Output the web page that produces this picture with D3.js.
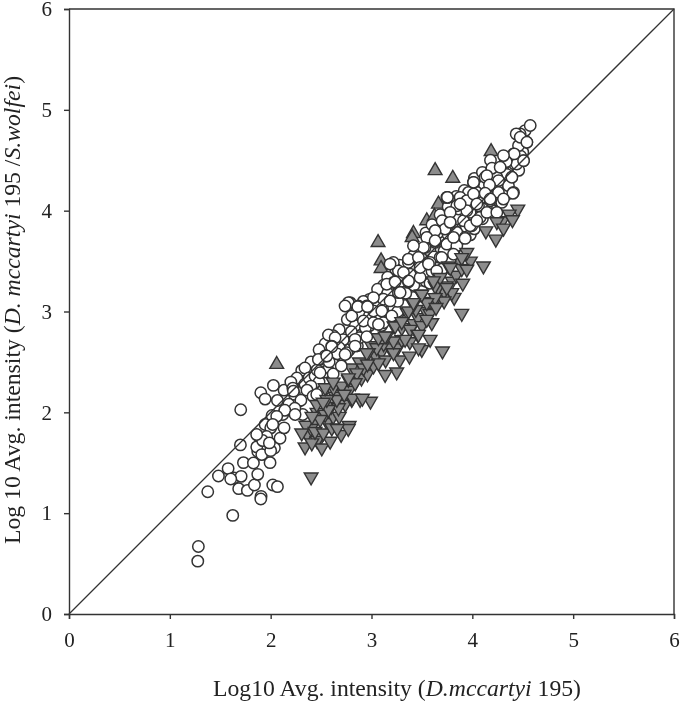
<!DOCTYPE html>
<html>
 <head>
   <meta charset="utf-8">
   <title>Log10 intensity scatter</title>
   <script src="https://cdn.jsdelivr.net/npm/d3@7/dist/d3.min.js"></script>
   <style>
     body { margin: 0; background: #fff; }
     text { font-family: "Liberation Serif", serif; fill: #222; }
   </style>
 </head>
 <body>
  <script>
    var ticks = [0, 1, 2, 3, 4, 5, 6];

    // [x, y]
    var circles = [[1.277,0.524],[1.283,0.670],[1.624,0.978],[1.376,1.213],[1.482,1.369],[1.578,1.442],[1.637,1.349],[1.707,1.365],[1.604,1.339],[1.683,1.243],[1.769,1.226],[1.839,1.279],[1.905,1.167],[1.902,1.140],[2.021,1.279],[2.067,1.263],[1.872,1.385],[1.730,1.501],[1.829,1.498],[1.994,1.501],[1.700,1.677],[1.872,1.611],[1.862,1.657],[1.912,1.581],[1.703,2.025],[1.869,1.773],[1.984,1.697],[2.037,1.647],[2.093,1.743],[1.945,1.879],[2.001,1.846],[2.133,1.846],[2.014,1.969],[2.120,1.979],[1.902,2.194],[1.945,2.131],[2.027,2.267],[2.133,2.220],[2.067,2.118],[2.279,2.111],[2.308,2.416],[2.302,2.306],[2.236,2.178],[2.408,2.383],[2.441,2.283],[2.523,2.310],[2.506,2.393],[2.490,2.525],[2.590,2.492],[2.606,2.651],[2.689,2.492],[2.748,2.581],[2.318,1.979],
      [3.40,3.44],[3.46,3.40],[3.28,3.46],[3.24,3.42],[3.16,3.34],[3.12,3.26],[3.06,3.22],[2.98,3.12],[2.92,3.10],[2.82,3.02],[2.76,2.92],[2.68,2.82],[2.62,2.76],[2.54,2.68],[2.48,2.62],[2.40,2.50],[2.34,2.44],[2.26,2.34],[2.20,2.30],[3.54,3.78],[3.60,3.86],[3.68,3.96],[3.76,4.04],[3.84,4.14],[3.92,4.20],[4.02,4.32],[4.10,4.38],[4.18,4.50],
      [2.30,2.12],[2.34,2.28],[2.38,2.34],[2.44,2.36],[2.48,2.30],[2.54,2.40],[2.58,2.44],[2.62,2.52],[2.66,2.48],[2.70,2.56],[2.74,2.66],[2.78,2.62],[2.82,2.70],[2.86,2.66],[2.90,2.82],[2.94,2.78],[2.98,2.86],[3.02,2.98],[3.06,2.92],[3.10,2.86],[3.14,3.02],[3.18,2.94],[3.22,3.04],[3.26,3.00],[3.30,3.12],[3.34,3.06],[3.38,3.20],[3.42,3.14],[3.46,3.24],[3.50,3.20],[3.54,3.30],[3.58,3.28],[3.62,3.36],[3.66,3.46],[3.70,3.42],[3.74,3.58],[3.78,3.64],[3.82,3.60],[3.86,3.78],[3.90,3.80],[3.94,3.84],[3.98,3.76],[4.02,3.82],[4.06,3.98],[4.10,3.92],[4.14,4.08],[4.18,4.02],[4.22,4.22],[4.26,4.10],[4.30,4.20],[4.34,4.16],[4.38,4.42],[4.42,4.46],[4.46,4.40],[4.50,4.58],
      [4.30,4.42],[4.36,4.50],[4.25,4.25],[4.12,4.25],[4.08,4.12],[3.98,4.07],[3.90,4.00],[3.84,3.92],[3.70,3.90],[3.66,3.78],[3.76,3.76],[3.58,3.60],[3.62,3.54],[3.72,3.60],[3.44,3.42],[3.50,3.52],[3.30,3.30],[3.28,3.36],[3.42,3.26],[3.10,3.08],[3.16,3.18],[3.06,3.10],[2.90,2.96],[2.98,2.96],[2.84,2.86],[2.72,2.72],[2.68,2.64],[2.80,2.80],[2.66,2.58],[2.58,2.50],[2.46,2.42],[2.40,2.26],[2.36,2.22],[2.22,2.24],[2.18,2.08],[2.24,2.04],[2.14,2.02],[2.06,1.96],[2.02,1.88],[1.96,1.76],[1.92,1.72],[2.00,1.62],[2.42,2.16],[2.52,2.22],[2.62,2.38],[2.70,2.46],[2.88,2.74],[2.94,2.84],[3.08,2.96],[3.26,3.10],[3.34,3.18],[3.52,3.38],[3.60,3.40],[3.78,3.50],[3.88,3.72],[4.00,3.96],[4.14,4.02],[4.22,4.14],[4.34,4.36],[4.48,4.54],
      [4.524,4.794],[4.474,4.761],[4.540,4.678],[4.458,4.645],[4.408,4.562],[4.325,4.480],[4.507,4.496],[4.441,4.463],[4.193,4.413],[4.127,4.331],[4.011,4.281],[4.243,4.331],[4.391,4.331],[4.210,4.248],[4.358,4.248],[4.408,4.181],[4.259,4.181],[4.143,4.181],[4.044,4.181],[3.962,4.181],[3.747,4.132],[3.879,4.132],[3.945,4.099],[4.061,4.049],[4.177,4.099],[4.292,4.082],[3.862,4.016],[3.780,3.883],[3.978,3.983],[4.077,3.933],[3.912,3.900],[3.995,3.850],[3.631,3.800],[3.730,3.817],[3.846,3.784],[3.928,3.734],[3.565,3.734],[3.631,3.684],[3.747,3.668],[3.846,3.651],[3.532,3.635],[3.680,3.535],[3.813,3.568],[3.416,3.552],[3.366,3.486],[3.482,3.469],[3.217,3.486],[3.267,3.403],[3.581,3.486],[3.383,3.370],[3.482,3.337],[3.217,3.287],[3.366,3.293],[3.151,3.270],[3.267,3.187],[3.118,3.121],[3.184,3.105],[3.019,3.138],[2.953,3.055],[2.788,3.088],[2.755,3.055],[2.870,3.055],[3.019,3.005],[3.102,3.005],[2.804,2.955],[2.920,2.906],[3.019,2.889],[3.118,2.889],[3.201,2.955],[2.573,2.767],[2.639,2.740],[2.837,2.724],[2.953,2.750],[2.606,2.657],[2.755,2.591],[2.837,2.657],[2.540,2.558],
      [4.574,4.844],[4.435,4.761],[4.475,4.728],[4.541,4.679],[4.415,4.563],[4.336,4.486],[4.508,4.496],[4.309,4.546],[4.194,4.420],[4.276,4.430],[4.392,4.331],[4.144,4.347],[4.012,4.281],[4.260,4.298],[4.170,4.254],[4.402,4.172],[4.309,4.115],[4.127,4.172],[4.012,4.165],[3.754,4.132],[3.846,4.049],[4.045,4.066],[4.177,4.115],[3.945,4.000],[4.144,3.983],[3.780,3.983],[4.243,3.983],
      [3.753,4.132],[3.879,4.066],[3.780,3.884],[3.978,3.850],[4.044,3.900],[3.631,3.801],[3.928,3.725],[3.548,3.735],[3.813,3.735],[3.631,3.701],[3.697,3.536],[3.515,3.635],[3.416,3.652],[3.184,3.470],[3.366,3.519],[3.465,3.536],[3.317,3.387],[3.482,3.436],[3.284,3.188],[3.565,3.470],[3.647,3.403],
      [3.234,3.293],[3.367,3.303],[2.771,3.088],[2.738,3.055],[2.864,3.048],[2.960,3.048],[3.069,2.872],[2.606,2.650],[2.738,2.574],[2.490,2.392],[2.473,2.525],[2.556,2.558],[2.457,2.177],[2.225,2.210],[2.242,1.978],[1.861,1.780],[1.987,1.697]];

    var upTriangles = [[2.060,2.475],[3.631,4.397],[3.806,4.321],[4.186,4.586],[3.065,3.684],[3.095,3.502],[3.095,3.426],[3.664,4.065],[3.548,3.900],[3.624,3.943],[3.416,3.774],[3.403,3.734]];

    // down triangles half hidden behind the circles
    var downBehind = [[2.36,1.78],[2.44,1.92],[2.50,1.76],[2.56,1.90],[2.62,1.96],[2.46,2.00],[2.54,1.98],[2.60,2.06],[2.68,1.96],[2.74,2.08],[2.70,2.24],[2.78,2.22],[2.84,2.30],[2.90,2.34],[2.80,2.44],[2.88,2.50],[2.96,2.38],[3.02,2.46],[3.04,2.56],[3.10,2.60],[3.14,2.52],[3.18,2.64],[3.26,2.64],[3.30,2.72],[3.28,2.52],[3.38,2.70],[3.42,2.88],[3.46,2.94],[3.50,2.86],[3.54,3.00],[3.58,3.10],[3.44,3.02],[3.30,2.84],[3.26,2.94],[3.68,3.14],[3.72,3.20],[3.66,3.24],[3.80,3.30],[3.84,3.36],[3.82,3.14],[3.58,2.98],[3.12,2.68],[3.00,2.66],[2.92,2.44],[2.64,2.16],[2.46,1.72],[2.40,1.84],[3.86,3.50],[3.98,3.50],[4.30,3.90]];

    var downTriangles = [[2.401,1.359],[2.341,1.657],[2.507,1.647],[2.348,1.872],[2.490,1.929],[2.778,1.869],[2.699,1.780],[2.590,1.713],[2.408,1.697],[2.308,1.796],[2.440,1.810],[2.523,1.796],[2.606,1.846],[2.672,2.045],[2.573,2.028],[2.457,2.078],[2.656,2.128],[2.557,2.128],[2.623,2.244],[2.705,2.260],[2.540,2.244],[2.771,2.326],[2.854,2.392],[2.804,2.128],[2.887,2.128],[2.838,2.293],
      [4.451,4.016],[4.365,3.966],[4.398,3.910],[4.243,3.890],[4.309,3.827],[4.134,3.800],[4.233,3.718],[4.110,3.452],[3.895,2.982],[3.905,3.280],[3.945,3.585],[3.895,3.535],[3.895,3.426],[3.763,3.452],[3.740,3.254],[3.631,3.254],[3.796,3.187],[3.720,3.105],[3.631,3.138],[3.492,3.171],[3.548,3.088],[3.416,3.071],[3.356,2.989],[3.598,2.889],[3.548,2.922],[3.224,2.856],[3.383,2.823],[3.459,2.773],[3.581,2.724],[3.499,2.624],[3.704,2.608],[3.376,2.558],[3.218,2.591],[3.333,2.724],[3.218,2.707],[3.052,2.641],[2.969,2.591],[3.069,2.740],[3.151,2.757],
      [3.25,2.40],[2.99,2.11],[2.81,2.14],[2.91,2.14],[2.77,1.84],[2.66,1.84],
      [3.945,3.420],[3.780,3.436],[3.680,3.337],[3.614,3.304],[3.747,3.238],[3.499,3.171],[3.069,2.491],[2.953,2.591],[3.135,2.375],[3.234,2.856],[3.135,2.756],[3.367,3.005],[3.416,3.088],[3.466,2.773],[3.466,2.640],[2.771,2.342],[2.620,2.300],[2.520,2.100],[2.410,1.960],[2.730,2.180],[2.960,2.480],[3.300,2.900],[3.640,3.040]];

    var width = 680, height = 704;
    var x = d3.scaleLinear().domain([0, 6]).range([69, 674]);
    var y = d3.scaleLinear().domain([0, 6]).range([614, 9]);
    var ink = "#333";

    var svg = d3.select("body").append("svg")
                .attr("width", width)
                .attr("height", height)
                .style("display", "block");

    var g = svg.append("g").style("filter", "blur(0.5px)");

    function drawAxis(axis, tx, ty) {
      var a = g.append("g").attr("transform", "translate(" + tx + "," + ty + ")").call(axis);
      a.selectAll("path, line").attr("stroke", ink).attr("stroke-width", 1.4);
      a.selectAll("text").attr("font-family", "Liberation Serif").attr("font-size", 21).attr("fill", ink);
      return a;
    }

    var bottom = drawAxis(d3.axisBottom(x).tickValues(ticks).tickFormat(d3.format("d")).tickSizeOuter(0).tickSize(5).tickPadding(13), 0, 614);
    var left = drawAxis(d3.axisLeft(y).tickValues(ticks).tickFormat(d3.format("d")).tickSizeOuter(0).tickSize(5).tickPadding(12), 69, 0);

    g.append("path")
      .attr("d", d3.line()([[x(0), y(6)], [x(6), y(6)], [x(6), y(0)]]))
      .attr("fill", "none").attr("stroke", ink).attr("stroke-width", 1.4);

    var triPath = d3.symbol().type(d3.symbolTriangle).size(82)();

    function drawTriangles(data, name, turn) {
      g.selectAll("." + name).data(data).enter().append("path")
        .attr("class", name)
        .attr("d", triPath)
        .attr("transform", function(d) { return "translate(" + x(d[0]) + "," + y(d[1]) + ") rotate(" + turn + ")"; })
        .attr("fill", "#8c8c8c").attr("stroke", ink).attr("stroke-width", 1.4);
    }

    drawTriangles(upTriangles, "up", 0);
    drawTriangles(downBehind, "downb", 180);

    g.selectAll(".circ").data(circles).enter().append("circle")
      .attr("class", "circ")
      .attr("cx", function(d) { return x(d[0]); })
      .attr("cy", function(d) { return y(d[1]); })
      .attr("r", 5.7)
      .attr("fill", "#fff").attr("stroke", ink).attr("stroke-width", 1.5);

    g.append("line")
      .attr("x1", x(0)).attr("y1", y(0)).attr("x2", x(6)).attr("y2", y(6))
      .attr("stroke", ink).attr("stroke-width", 1.3);

    drawTriangles(downTriangles, "down", 180);

    var xt = g.append("text").attr("x", 397).attr("y", 696).attr("text-anchor", "middle").attr("font-size", 23.7);
    xt.append("tspan").text("Log10 Avg. intensity (");
    xt.append("tspan").attr("font-style", "italic").text("D.mccartyi");
    xt.append("tspan").text(" 195)");

    var yt = g.append("text").attr("transform", "translate(20,310) rotate(-90)").attr("text-anchor", "middle").attr("font-size", 23.7);
    yt.append("tspan").text("Log 10 Avg. intensity (");
    yt.append("tspan").attr("font-style", "italic").text("D. mccartyi");
    yt.append("tspan").text(" 195 /");
    yt.append("tspan").attr("font-style", "italic").text("S.wolfei");
    yt.append("tspan").text(")");
  </script>
 </body>
</html>
